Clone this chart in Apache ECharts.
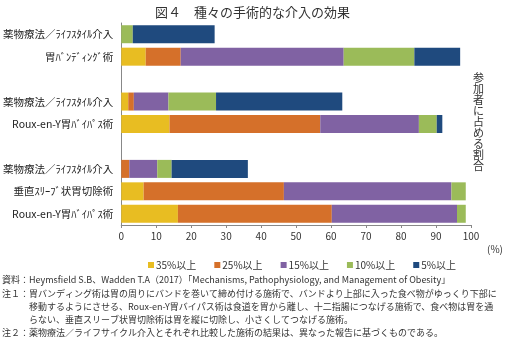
<!DOCTYPE html>
<html><head><meta charset="utf-8">
<script src="https://cdn.jsdelivr.net/npm/echarts@6/dist/echarts.min.js"></script>
<style>html,body{margin:0;padding:0;background:#fff}#c{width:505px;height:337px}</style>
</head><body><div id="c"></div>
<script>
const categories = ['薬物療法／ﾗｲﾌｽﾀｲﾙ介入','胃ﾊﾞﾝﾃﾞｨﾝｸﾞ術','','薬物療法／ﾗｲﾌｽﾀｲﾙ介入','Roux-en-Y胃ﾊﾞｲﾊﾟｽ術',' ','薬物療法／ﾗｲﾌｽﾀｲﾙ介入','垂直ｽﾘｰﾌﾞ状胃切除術','Roux-en-Y胃ﾊﾞｲﾊﾟｽ術'];
const seriesNames = ['35%以上','25%以上','15%以上','10%以上','5%以上'];
const s35 = [0, 7.0, null, 2.0, 13.8, null, 0, 6.4, 16.2];
const s25 = [0, 10.0, null, 1.6, 43.1, null, 2.3, 40.1, 44.0];
const s15 = [0, 46.6, null, 9.9, 28.2, null, 8.0, 47.9, 35.8];
const s10 = [3.3, 20.2, null, 13.6, 5.1, null, 4.1, 4.1, 2.5];
const s5  = [23.4, 13.1, null, 36.1, 1.6, null, 21.8, 0, 0];
const xTicks = [0,10,20,30,40,50,60,70,80,90,100];
const colors = ['#E8BD22','#D5702A','#8062A3','#9BBB59','#1F4A7E'];
const F = '"Noto Sans CJK JP", sans-serif';
const chart = echarts.init(document.getElementById('c'), null, {renderer:'canvas'});
const allData = [s35,s25,s15,s10,s5];
chart.setOption({
  animation:false,
  title:{text:'図４　種々の手術的な介入の効果',left:'center',top:1,textStyle:{fontFamily:F,fontSize:13,fontWeight:'normal',color:'#333'}},
  grid:{left:121,right:34,top:23,bottom:112,containLabel:false},
  xAxis:{type:'value',min:xTicks[0],max:xTicks[xTicks.length-1],interval:10,
    axisLine:{show:true,lineStyle:{color:'#888'}},axisTick:{show:true,length:3,lineStyle:{color:'#888'}},
    splitLine:{show:false},axisLabel:{fontFamily:F,fontSize:10,color:'#333',margin:6}},
  yAxis:{type:'category',inverse:true,data:categories,
    axisLine:{show:true,lineStyle:{color:'#888'}},axisTick:{show:false},
    axisLabel:{fontFamily:F,fontSize:10.5,color:'#222',margin:8}},
  legend:{left:143,top:255,itemWidth:6,itemHeight:6,itemGap:18,icon:'rect',
    textStyle:{fontFamily:F,fontSize:10,color:'#333',padding:[0,0,0,-3]},data:seriesNames},
  series: seriesNames.map((n,i)=>({name:n,type:'bar',stack:'a',barWidth:18,
    itemStyle:{color:colors[i]},data:allData[i]})),
  graphic:[
    {type:'text',left:487,top:244,style:{text:'(%)',fontFamily:F,fontSize:10,fill:'#333'}},
    {type:'text',left:473,top:72,style:{text:'参\n加\n者\nに\n占\nめ\nる\n割\n合',fontFamily:F,fontSize:11,lineHeight:11,fill:'#333'}},
    {type:'text',left:2,top:275,style:{text:'資料：Heymsfield S.B、Wadden T.A（2017）「Mechanisms, Pathophysiology, and Management of Obesity」',fontFamily:F,fontSize:9,fill:'#333'}},
    {type:'text',left:2,top:289,style:{text:'注１：胃バンディング術は胃の周りにバンドを巻いて締め付ける施術で、バンドより上部に入った食べ物がゆっくり下部に',fontFamily:F,fontSize:9,fill:'#333'}},
    {type:'text',left:29,top:302,style:{text:'移動するようにさせる、Roux-en-Y胃バイパス術は食道を胃から離し、十二指腸につなげる施術で、食べ物は胃を通',fontFamily:F,fontSize:9,fill:'#333'}},
    {type:'text',left:29,top:315,style:{text:'らない、垂直スリーブ状胃切除術は胃を縦に切除し、小さくしてつなげる施術。',fontFamily:F,fontSize:9,fill:'#333'}},
    {type:'text',left:2,top:328,style:{text:'注２：薬物療法／ライフサイクル介入とそれぞれ比較した施術の結果は、異なった報告に基づくものである。',fontFamily:F,fontSize:9,fill:'#333'}}
  ]
});
</script></body></html>
